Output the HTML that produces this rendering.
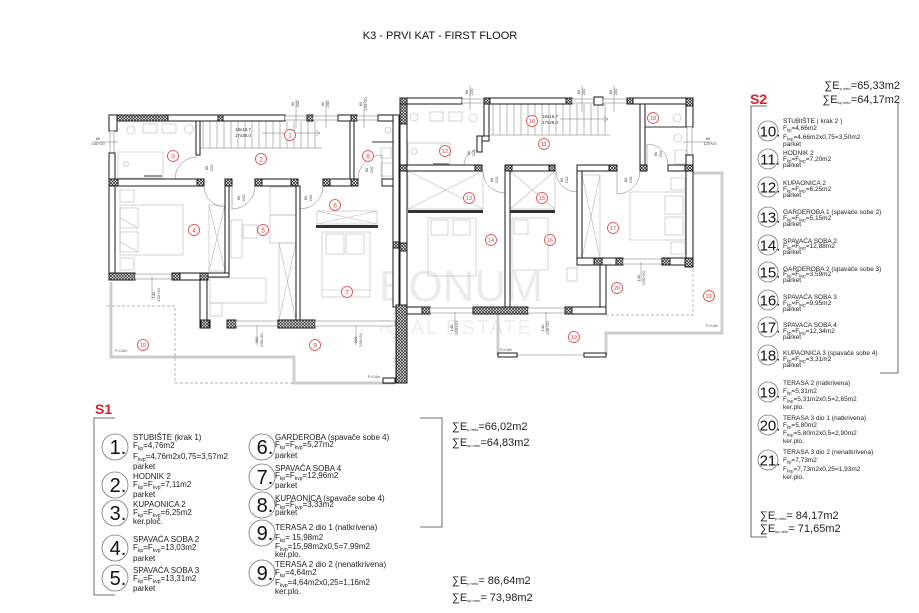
<!DOCTYPE html>
<html><head><meta charset="utf-8">
<style>
html,body{margin:0;padding:0;background:#fff;}
svg{display:block}
.w{fill:#fff;stroke:#1a1a1a;stroke-width:1}
.hh{fill:url(#h);stroke:#1a1a1a;stroke-width:1}
.wn{fill:#fff;stroke:#777;stroke-width:.5}
.f{fill:none;stroke:#b8b8b8;stroke-width:.6}
.d{fill:none;stroke:#777;stroke-width:.5}
.dl{fill:none;stroke:#9a9a9a;stroke-width:2.4}
.dl2{fill:none;stroke:#fff;stroke-width:1}
.ds{fill:none;stroke:#999;stroke-width:.7;stroke-dasharray:3 2}
.rc{fill:#fff;stroke:#e03a3a;stroke-width:.8}
.rt{fill:#e03a3a;font-size:6.5px;text-anchor:middle}
.t{font-size:4px;fill:#444;text-anchor:middle}
</style></head><body>
<svg width="919" height="613" viewBox="0 0 919 613" xmlns="http://www.w3.org/2000/svg" font-family="'Liberation Sans', Arial, sans-serif">
<defs>
<pattern id="h" width="3" height="3" patternUnits="userSpaceOnUse"><rect width="3" height="3" fill="#fff"/><path d="M0 0L3 3M3 0L0 3" stroke="#222" stroke-width=".7"/></pattern>
</defs>
<rect width="919" height="613" fill="#fff"/>
<text x="440" y="39" font-size="11" text-anchor="middle" fill="#111">K3 - PRVI KAT - FIRST FLOOR</text>

<!-- watermark -->
<text x="461" y="301" font-size="44" text-anchor="middle" fill="#ebebeb">BONUM</text>
<text x="456" y="334" font-size="20" letter-spacing="2" text-anchor="middle" fill="#eeeeee">REAL ESTATE</text>

<!-- terraces -->
<path class="dl" d="M111 282V357H294V383H395"/>
<path class="dl2" d="M111 282V357H294V383H395"/>
<path class="ds" d="M107 306H175V383H294"/>
<path class="dl" d="M693 173H722V333H606V355"/>
<path class="dl2" d="M693 173H722V333H606V355"/>
<path class="dl" d="M498 314V355"/>
<path class="dl2" d="M498 314V355"/>
<path class="d" d="M517 355H584"/>
<path class="ds" d="M606 315H693V267"/>
<text x="115" y="352" font-size="3.5" fill="#555">P=0,8m</text>
<text x="368" y="378" font-size="3.5" fill="#555">P=0,8m</text>
<text x="500" y="351" font-size="3.5" fill="#555">P=0,8m</text>
<text x="706" y="327" font-size="3.5" fill="#555">P=0,8m</text>

<!-- furniture L -->
<g class="f">
<rect x="143" y="124" width="14" height="9"/><rect x="162" y="124" width="14" height="9"/>
<circle cx="131" cy="130" r="4"/><circle cx="189" cy="129" r="4.5"/>
<rect x="118" y="152" width="45" height="26"/><circle cx="126" cy="164" r="2.5"/>
<circle cx="388" cy="130" r="3"/><rect x="381" y="148" width="10" height="10"/><rect x="381" y="163" width="13" height="13"/>
<rect x="120" y="205" width="63" height="50"/><rect x="120" y="208" width="18" height="20"/><rect x="120" y="232" width="18" height="20"/>
<path d="M120 218L138 228M120 242L138 252"/>
<rect x="120" y="190" width="14" height="12"/><rect x="120" y="258" width="14" height="12"/>
<rect x="209" y="205" width="16" height="66"/><path d="M209 205L225 271M225 205L209 271"/>
<rect x="231" y="220" width="11" height="38"/><rect x="243" y="225" width="14" height="13"/>
<rect x="210" y="278" width="56" height="25"/><rect x="210" y="303" width="12" height="13"/>
<rect x="270" y="187" width="26" height="28"/><rect x="270" y="215" width="26" height="28"/>
<rect x="279" y="243" width="17" height="77"/><path d="M279 243L296 320M296 243L279 320"/>
<rect x="317" y="211" width="60" height="13"/><path d="M317 211L377 224M377 211L317 224"/>
<rect x="322" y="232" width="48" height="65"/><rect x="326" y="234" width="18" height="20"/><rect x="346" y="234" width="18" height="20"/>
<path d="M322 290H370"/>
</g>
<rect x="144" y="175" width="18" height="2" fill="#999"/>

<!-- furniture R -->
<g class="f">
<rect x="430" y="112" width="13" height="9"/><rect x="449" y="112" width="13" height="9"/>
<circle cx="414" cy="117" r="4"/><circle cx="473" cy="118" r="4"/>
<rect x="408" y="143" width="42" height="22"/><circle cx="414" cy="151" r="3"/>
<rect x="408" y="171" width="75" height="38"/><path d="M408 171L483 209M483 171L408 209"/>
<rect x="510" y="171" width="45" height="38"/><path d="M510 171L555 209M555 171L510 209"/>
<rect x="428" y="218" width="48" height="58"/><rect x="431" y="220" width="17" height="15"/><rect x="453" y="220" width="17" height="15"/>
<rect x="512" y="218" width="36" height="52"/><rect x="514" y="220" width="14" height="14"/>
<rect x="567" y="268" width="10" height="13"/>
<rect x="630" y="192" width="55" height="48"/><rect x="665" y="196" width="18" height="18"/><rect x="665" y="217" width="18" height="18"/>
<rect x="671" y="178" width="14" height="12"/><rect x="671" y="242" width="14" height="12"/>
<rect x="582" y="175" width="18" height="83"/><path d="M582 175L600 258M600 175L582 258"/>
<circle cx="677" cy="118" r="4"/><circle cx="678" cy="138" r="4"/><rect x="675" y="150" width="11" height="14"/>
<rect x="643" y="108" width="2" height="22"/>
</g>
<rect x="433" y="163" width="16" height="2" fill="#999"/>

<!-- stairs -->
<path class="d" d="M203 121V148M210 121V148M217 121V148M224 121V148M231 121V148M238 121V148M245 121V148M252 121V148M259 121V148M266 121V148M273 121V148M280 121V148M287 121V148M294 121V148M301 121V148M308 121V148M315 121V148M200 148H322"/>
<path class="d" d="M262 133H320M316 130L320 133L316 136"/>
<text x="243" y="131" font-size="4.5" fill="#333" text-anchor="middle">18x16,7</text>
<text x="243" y="137" font-size="4.5" fill="#333" text-anchor="middle">17x28,0</text>
<path class="d" d="M493 104V135M500 104V135M507 104V135M514 104V135M521 104V135M528 104V135M535 104V135M542 104V135M549 104V135M556 104V135M563 104V135M570 104V135M577 104V135M584 104V135M591 104V135M598 104V135M605 104V135M490 135H610"/>
<path class="d" d="M560 119H608M604 116L608 119L604 122"/>
<text x="550" y="118" font-size="4.5" fill="#333" text-anchor="middle">18x16,7</text>
<text x="550" y="124" font-size="4.5" fill="#333" text-anchor="middle">17x28,0</text>

<!-- doors -->
<g class="d">
<path d="M197 157A22 22 0 0 0 175 179H197"/>
<path d="M204 186A21 21 0 0 0 225 207V186"/>
<path d="M255 186A23 23 0 0 1 232 209V186"/>
<path d="M323 186A23 23 0 0 1 300 209V186"/>
<path d="M358 179A24 24 0 0 1 382 155V179"/>
<path d="M479 150A15 15 0 0 0 464 165H479"/>
<path d="M483 171A22 22 0 0 0 505 193V171"/>
<path d="M556 171A21 21 0 0 0 577 192V171"/>
<path d="M640 171A23 23 0 0 1 617 194V171"/>
<path d="M668 165A21 21 0 0 0 647 144V165"/>
</g>

<!-- walls L -->
<rect class="w" x="109" y="115" width="176" height="6"/>
<rect class="hh" x="112" y="115" width="56" height="6"/>
<rect class="hh" x="218" y="115" width="5" height="6"/>
<rect class="wn" x="285" y="116" width="22" height="4"/>
<rect class="hh" x="307" y="115" width="6" height="6"/>
<rect class="wn" x="313" y="116" width="25" height="4"/>
<rect class="w" x="338" y="115" width="19" height="6"/>
<rect class="hh" x="351" y="115" width="6" height="6"/>
<rect class="wn" x="357" y="116" width="21" height="4"/>
<rect class="w" x="378" y="115" width="21" height="6"/>
<rect class="w" x="109" y="115" width="8" height="16"/>
<rect class="wn" x="110" y="131" width="4" height="22"/>
<rect class="w" x="109" y="153" width="6" height="127"/>
<rect class="w" x="109" y="179" width="95" height="7"/>
<rect class="hh" x="109" y="179" width="9" height="7"/>
<rect class="hh" x="197" y="179" width="7" height="7"/>
<rect class="hh" x="225" y="179" width="7" height="7"/>
<rect class="w" x="255" y="179" width="43" height="7"/>
<rect class="hh" x="255" y="179" width="7" height="7"/>
<rect class="hh" x="291" y="179" width="7" height="7"/>
<rect class="w" x="323" y="179" width="35" height="7"/>
<rect class="hh" x="323" y="179" width="7" height="7"/>
<rect class="hh" x="351" y="179" width="7" height="7"/>
<rect class="w" x="382" y="179" width="17" height="7"/>
<rect class="w" x="196" y="121" width="4" height="34"/>
<rect class="w" x="350" y="121" width="4" height="58"/>
<path d="M372 142H393" stroke="#333" stroke-width="1"/>
<rect class="w" x="393" y="115" width="6" height="192"/>
<rect class="hh" x="393" y="242" width="6" height="6"/>
<rect class="w" x="225" y="186" width="4" height="88"/>
<rect class="w" x="203" y="273" width="26" height="4"/>
<rect class="hh" x="109" y="273" width="26" height="7"/>
<rect class="wn" x="135" y="274" width="37" height="5"/>
<rect class="hh" x="172" y="273" width="8" height="7"/>
<rect class="w" x="180" y="273" width="22" height="7"/>
<rect class="hh" x="200" y="273" width="8" height="7"/>
<rect class="w" x="200" y="280" width="7" height="40"/>
<rect class="w" x="200" y="320" width="10" height="8"/>
<rect class="hh" x="201" y="320" width="8" height="8"/>
<rect class="hh" x="227" y="320" width="9" height="8"/>
<rect class="wn" x="236" y="321" width="42" height="5"/>
<rect class="hh" x="278" y="320" width="37" height="8"/>
<rect class="wn" x="315" y="321" width="80" height="5"/>
<rect class="w" x="296" y="186" width="4" height="134"/>
<rect x="316" y="225" width="62" height="3" fill="#333"/>
<rect class="w" x="383" y="378" width="12" height="5"/>

<!-- walls R -->
<rect class="w" x="400" y="98" width="7" height="285"/>
<rect class="hh" x="400" y="98" width="7" height="26"/>
<rect class="hh" x="400" y="243" width="7" height="8"/>
<rect class="hh" x="396" y="305" width="11" height="78"/>
<rect class="w" x="400" y="98" width="62" height="6"/>
<rect class="hh" x="400" y="98" width="7" height="6"/>
<rect class="wn" x="462" y="99" width="22" height="4"/>
<rect class="w" x="484" y="98" width="88" height="6"/>
<rect class="hh" x="484" y="98" width="6" height="6"/>
<rect class="hh" x="566" y="98" width="6" height="6"/>
<rect class="wn" x="572" y="99" width="22" height="4"/>
<rect class="w" x="594" y="97" width="9" height="8"/>
<rect class="wn" x="603" y="99" width="24" height="4"/>
<rect class="w" x="627" y="98" width="66" height="6"/>
<rect class="hh" x="627" y="98" width="6" height="6"/>
<rect class="w" x="686" y="98" width="7" height="29"/>
<rect class="hh" x="686" y="98" width="7" height="8"/>
<rect class="wn" x="687" y="127" width="5" height="28"/>
<rect class="w" x="686" y="155" width="7" height="112"/>
<rect class="w" x="400" y="165" width="82" height="6"/>
<rect class="hh" x="400" y="165" width="7" height="6"/>
<rect class="hh" x="475" y="165" width="7" height="6"/>
<rect class="w" x="505" y="165" width="50" height="6"/>
<rect class="hh" x="505" y="165" width="7" height="6"/>
<rect class="hh" x="549" y="165" width="6" height="6"/>
<rect class="w" x="577" y="165" width="40" height="6"/>
<rect class="hh" x="609" y="165" width="8" height="6"/>
<rect class="hh" x="640" y="165" width="7" height="6"/>
<rect class="w" x="668" y="165" width="25" height="6"/>
<rect class="hh" x="685" y="165" width="8" height="6"/>
<rect class="w" x="484" y="104" width="5" height="36"/>
<rect class="w" x="477" y="136" width="12" height="5"/>
<rect class="w" x="477" y="136" width="5" height="16"/>
<rect class="w" x="640" y="104" width="5" height="61"/>
<path d="M645 127H686" stroke="#333" stroke-width="1"/>
<rect class="w" x="505" y="171" width="5" height="136"/>
<rect class="w" x="577" y="171" width="5" height="87"/>
<rect class="w" x="577" y="258" width="46" height="7"/>
<rect class="hh" x="594" y="258" width="8" height="7"/>
<rect class="hh" x="616" y="258" width="7" height="7"/>
<rect class="wn" x="623" y="259" width="39" height="5"/>
<rect class="w" x="662" y="258" width="31" height="7"/>
<rect class="hh" x="662" y="258" width="8" height="7"/>
<rect class="hh" x="685" y="258" width="8" height="9"/>
<rect class="w" x="600" y="265" width="6" height="49"/>
<rect class="w" x="407" y="307" width="23" height="7"/>
<rect class="hh" x="422" y="307" width="8" height="7"/>
<rect class="wn" x="430" y="308" width="43" height="5"/>
<rect class="hh" x="473" y="307" width="55" height="7"/>
<rect class="wn" x="528" y="308" width="37" height="5"/>
<rect class="hh" x="565" y="307" width="7" height="7"/>
<rect class="w" x="572" y="307" width="34" height="7"/>
<rect x="408" y="210" width="75" height="3" fill="#333"/>
<rect x="510" y="210" width="45" height="3" fill="#333"/>
<rect class="w" x="498" y="353" width="19" height="4"/>
<rect class="w" x="584" y="353" width="22" height="4"/>

<!-- dimension labels -->
<g>
<path class="d" d="M296 100V128M326 100V128M364 100V128M470 85V110M582 85V112M614 85V112"/>
<g transform="translate(294,104) rotate(-90)"><text class="t">80</text><text class="t" y="5">200</text></g>
<g transform="translate(324,104) rotate(-90)"><text class="t">80</text><text class="t" y="5">200</text></g>
<g transform="translate(362,104) rotate(-90)"><text class="t">80</text><text class="t" y="5">130+20</text></g>
<g transform="translate(468,92) rotate(-90)"><text class="t">80</text><text class="t" y="5">220</text></g>
<g transform="translate(580,92) rotate(-90)"><text class="t">80</text><text class="t" y="5">200</text></g>
<g transform="translate(612,92) rotate(-90)"><text class="t">80</text><text class="t" y="5">200</text></g>
<text class="t" x="98" y="140">80</text><text class="t" x="98" y="145">130+20</text>
<path class="d" d="M93 142H118M683 142H712"/>
<text class="t" x="708" y="140">80</text><text class="t" x="710" y="145">120+20</text>
<path class="d" d="M152 276V300M257 325V345M356 325V345M455 312V332M546 312V332M641 262V282"/>
<g transform="translate(155,295) rotate(-90)"><text class="t">140</text><text class="t" y="5">230+20</text></g>
<g transform="translate(258,340) rotate(-90)"><text class="t">300</text><text class="t" y="5">230+20</text></g>
<g transform="translate(357,340) rotate(-90)"><text class="t">300</text><text class="t" y="5">230+20</text></g>
<g transform="translate(453,328) rotate(-90)"><text class="t">140</text><text class="t" y="5">230+20</text></g>
<g transform="translate(544,328) rotate(-90)"><text class="t">140</text><text class="t" y="5">230+20</text></g>
<g transform="translate(640,278) rotate(-90)"><text class="t">140</text><text class="t" y="5">230+20</text></g>
<g transform="translate(208,168) rotate(-90)"><text class="t">80</text><text class="t" y="5">210</text></g>
<g transform="translate(240,198) rotate(-90)"><text class="t">80</text><text class="t" y="5">210</text></g>
<g transform="translate(307,198) rotate(-90)"><text class="t">80</text><text class="t" y="5">210</text></g>
<g transform="translate(368,170) rotate(-90)"><text class="t">80</text><text class="t" y="5">210</text></g>
<g transform="translate(493,180) rotate(-90)"><text class="t">80</text><text class="t" y="5">210</text></g>
<g transform="translate(563,180) rotate(-90)"><text class="t">80</text><text class="t" y="5">210</text></g>
<g transform="translate(627,180) rotate(-90)"><text class="t">80</text><text class="t" y="5">210</text></g>
<g transform="translate(657,154) rotate(-90)"><text class="t">80</text><text class="t" y="5">210</text></g>
<g transform="translate(470,153) rotate(-90)"><text class="t">80</text><text class="t" y="5">210</text></g>
</g>

<!-- room labels -->
<g class="rc">
<circle cx="290" cy="135" r="5.5"/><circle cx="261" cy="159" r="5.5"/><circle cx="173" cy="156" r="5.5"/>
<circle cx="194" cy="230" r="5.5"/><circle cx="263" cy="230" r="5.5"/><circle cx="335" cy="205" r="5.5"/>
<circle cx="347" cy="292" r="5.5"/><circle cx="368" cy="156" r="5.5"/><circle cx="315" cy="345" r="5.5"/>
<circle cx="143" cy="345" r="5.5"/><circle cx="532" cy="121" r="5.5"/><circle cx="544" cy="144" r="5.5"/>
<circle cx="445" cy="151" r="5.5"/><circle cx="469" cy="198" r="5.5"/><circle cx="491" cy="240" r="5.5"/>
<circle cx="542" cy="198" r="5.5"/><circle cx="550" cy="240" r="5.5"/><circle cx="613" cy="228" r="5.5"/>
<circle cx="653" cy="118" r="5.5"/><circle cx="574" cy="337" r="5.5"/><circle cx="617" cy="288" r="5.5"/>
<circle cx="709" cy="296" r="5.5"/>
</g>
<g class="rt">
<text x="290" y="137.3">1</text><text x="261" y="161.3">2</text><text x="173" y="158.3">3</text>
<text x="194" y="232.3">4</text><text x="263" y="232.3">5</text><text x="335" y="207.3">6</text>
<text x="347" y="294.3">7</text><text x="368" y="158.3">8</text><text x="315" y="347.3">9</text>
<g font-size="5.5"><text x="143" y="347">10</text><text x="532" y="123">10</text><text x="544" y="146">11</text>
<text x="445" y="153">12</text><text x="469" y="200">13</text><text x="491" y="242">14</text>
<text x="542" y="200">15</text><text x="550" y="242">16</text><text x="613" y="230">17</text>
<text x="653" y="120">18</text><text x="574" y="339">19</text><text x="617" y="290">20</text>
<text x="709" y="298">21</text></g>
</g>

<!-- ===== LEGEND S1 ===== -->
<text x="95" y="414" font-size="14" font-weight="bold" fill="#d81e2a">S1</text>
<path d="M115 418H94V595H115M420 418H442V527H420" fill="none" stroke="#444" stroke-width=".8"/>
<g fill="#fff" stroke="#777" stroke-width=".8">
<circle cx="115" cy="447" r="13"/><circle cx="115" cy="485" r="13"/><circle cx="115" cy="513" r="13"/>
<circle cx="115" cy="548" r="13"/><circle cx="115" cy="578" r="13"/>
<circle cx="262" cy="447" r="13"/><circle cx="262" cy="477" r="13"/><circle cx="262" cy="505" r="13"/>
<circle cx="262" cy="533" r="13"/><circle cx="262" cy="573" r="13"/>
</g>
<g font-size="20" fill="#111" text-anchor="middle">
<text x="118" y="454">1.</text><text x="118" y="492">2.</text><text x="118" y="520">3.</text>
<text x="118" y="555">4.</text><text x="118" y="585">5.</text>
<text x="265" y="454">6.</text><text x="265" y="484">7.</text><text x="265" y="512">8.</text>
<text x="265" y="540">9.</text><text x="265" y="580">9.</text>
</g>
<g font-size="8" fill="#222">
<text x="133" y="440">STUBIŠTE (krak 1)</text>
<text x="133" y="448">F<tspan font-size="5" dy="2">kp</tspan><tspan dy="-2">=4,76m2</tspan></text>
<text x="133" y="459">F<tspan font-size="5" dy="2">kvp</tspan><tspan dy="-2">=4,76m2x0,75=3,57m2</tspan></text>
<text x="133" y="469">parket</text>
<text x="133" y="479">HODNIK 2</text>
<text x="133" y="487">F<tspan font-size="5" dy="2">kp</tspan><tspan dy="-2">=F</tspan><tspan font-size="5" dy="2">kvp</tspan><tspan dy="-2">=7,11m2</tspan></text>
<text x="133" y="497">parket</text>
<text x="133" y="507">KUPAONICA 2</text>
<text x="133" y="515">F<tspan font-size="5" dy="2">kp</tspan><tspan dy="-2">=F</tspan><tspan font-size="5" dy="2">kvp</tspan><tspan dy="-2">=6,25m2</tspan></text>
<text x="133" y="524">ker.ploč.</text>
<text x="133" y="542">SPAVAĆA SOBA 2</text>
<text x="133" y="550">F<tspan font-size="5" dy="2">kp</tspan><tspan dy="-2">=F</tspan><tspan font-size="5" dy="2">kvp</tspan><tspan dy="-2">=13,03m2</tspan></text>
<text x="133" y="561">parket</text>
<text x="133" y="573">SPAVAĆA SOBA 3</text>
<text x="133" y="581">F<tspan font-size="5" dy="2">kp</tspan><tspan dy="-2">=F</tspan><tspan font-size="5" dy="2">kvp</tspan><tspan dy="-2">=13,31m2</tspan></text>
<text x="133" y="591">parket</text>

<text x="275" y="440">GARDEROBA (spavače sobe 4)</text>
<text x="275" y="447">F<tspan font-size="5" dy="2">kp</tspan><tspan dy="-2">=F</tspan><tspan font-size="5" dy="2">kvp</tspan><tspan dy="-2">=5,27m2</tspan></text>
<text x="275" y="458">parket</text>
<text x="275" y="471">SPAVAĆA SOBA 4</text>
<text x="275" y="478">F<tspan font-size="5" dy="2">kp</tspan><tspan dy="-2">=F</tspan><tspan font-size="5" dy="2">kvp</tspan><tspan dy="-2">=12,96m2</tspan></text>
<text x="275" y="488">parket</text>
<text x="275" y="501">KUPAONICA (spavače sobe 4)</text>
<text x="275" y="507">F<tspan font-size="5" dy="2">kp</tspan><tspan dy="-2">=F</tspan><tspan font-size="5" dy="2">kvp</tspan><tspan dy="-2">=3,33m2</tspan></text>
<text x="275" y="515">parket</text>
<text x="275" y="530">TERASA 2 dio 1 (natkrivena)</text>
<text x="275" y="540">F<tspan font-size="5" dy="2">kp</tspan><tspan dy="-2">= 15,98m2</tspan></text>
<text x="275" y="549">F<tspan font-size="5" dy="2">kvp</tspan><tspan dy="-2">=15,98m2x0,5=7,99m2</tspan></text>
<text x="275" y="557">ker.plo.</text>
<text x="275" y="567">TERASA 2 dio 2 (nenatkrivena)</text>
<text x="275" y="575">F<tspan font-size="5" dy="2">kp</tspan><tspan dy="-2">=4,64m2</tspan></text>
<text x="275" y="585">F<tspan font-size="5" dy="2">kvp</tspan><tspan dy="-2">=4,64m2x0,25=1,16m2</tspan></text>
<text x="275" y="594">ker.plo.</text>
</g>
<g font-size="11" fill="#222">
<text x="452" y="430">∑E<tspan font-size="4" dy="1">p neto</tspan><tspan dy="-1">=66,02m2</tspan></text>
<text x="452" y="446">∑E<tspan font-size="4" dy="1">kp neto</tspan><tspan dy="-1">=64,83m2</tspan></text>
<text x="452" y="584">∑E<tspan font-size="4" dy="1">p neto</tspan><tspan dy="-1">= 86,64m2</tspan></text>
<text x="452" y="601">∑E<tspan font-size="4" dy="1">kp neto</tspan><tspan dy="-1">= 73,98m2</tspan></text>
</g>

<!-- ===== LEGEND S2 ===== -->
<text x="750" y="104" font-size="14" font-weight="bold" fill="#d81e2a">S2</text>
<path d="M767 106H751V537H767M898 102V373H880" fill="none" stroke="#444" stroke-width=".8"/>
<g font-size="11" fill="#222" text-anchor="end">
<text x="900" y="89">∑E<tspan font-size="4" dy="1">p neto</tspan><tspan dy="-1">=65,33m2</tspan></text>
<text x="900" y="103">∑E<tspan font-size="4" dy="1">kp neto</tspan><tspan dy="-1">=64,17m2</tspan></text>
</g>
<g font-size="11" fill="#222">
<text x="760" y="519">∑E<tspan font-size="4" dy="1">p neto</tspan><tspan dy="-1">= 84,17m2</tspan></text>
<text x="760" y="532">∑E<tspan font-size="4" dy="1">kp neto</tspan><tspan dy="-1">= 71,65m2</tspan></text>
</g>
<g fill="#fff" stroke="#777" stroke-width=".8">
<circle cx="768" cy="131" r="10"/><circle cx="768" cy="159" r="10"/><circle cx="768" cy="187" r="10"/>
<circle cx="768" cy="217" r="10"/><circle cx="768" cy="245" r="10"/><circle cx="768" cy="272" r="10"/>
<circle cx="768" cy="300" r="10"/><circle cx="768" cy="327" r="10"/><circle cx="768" cy="355" r="10"/>
<circle cx="768" cy="392" r="10"/><circle cx="768" cy="425" r="10"/><circle cx="768" cy="460" r="10"/>
</g>
<g font-size="15" fill="#111" text-anchor="middle">
<text x="770" y="136.5">10.</text><text x="770" y="164.5">11.</text><text x="770" y="192.5">12.</text>
<text x="770" y="222.5">13.</text><text x="770" y="250.5">14.</text><text x="770" y="277.5">15.</text>
<text x="770" y="305.5">16.</text><text x="770" y="332.5">17.</text><text x="770" y="360.5">18.</text>
<text x="770" y="397.5">19.</text><text x="770" y="430.5">20.</text><text x="770" y="465.5">21.</text>
</g>
<g font-size="6.5" fill="#222">
<text x="783" y="123">STUBIŠTE ( krak 2 )</text>
<text x="783" y="130">F<tspan font-size="4.2" dy="1.5">kp</tspan><tspan dy="-1.5">=4,66m2</tspan></text>
<text x="783" y="139">F<tspan font-size="4.2" dy="1.5">kvp</tspan><tspan dy="-1.5">=4,66m2x0,75=3,50m2</tspan></text>
<text x="783" y="146">parket</text>
<text x="783" y="155">HODNIK 2</text>
<text x="783" y="161">F<tspan font-size="4.2" dy="1.5">kp</tspan><tspan dy="-1.5">=F</tspan><tspan font-size="4.2" dy="1.5">kvp</tspan><tspan dy="-1.5">=7,20m2</tspan></text>
<text x="783" y="167">parket</text>
<text x="783" y="185">KUPAONICA 2</text>
<text x="783" y="191">F<tspan font-size="4.2" dy="1.5">kp</tspan><tspan dy="-1.5">=F</tspan><tspan font-size="4.2" dy="1.5">kvp</tspan><tspan dy="-1.5">=6,25m2</tspan></text>
<text x="783" y="197">parket</text>
<text x="783" y="214">GARDEROBA 1 (spavače sobe 2)</text>
<text x="783" y="220">F<tspan font-size="4.2" dy="1.5">kp</tspan><tspan dy="-1.5">=F</tspan><tspan font-size="4.2" dy="1.5">kvp</tspan><tspan dy="-1.5">=5,15m2</tspan></text>
<text x="783" y="226">parket</text>
<text x="783" y="243">SPAVAĆA SOBA 2</text>
<text x="783" y="248">F<tspan font-size="4.2" dy="1.5">kp</tspan><tspan dy="-1.5">=F</tspan><tspan font-size="4.2" dy="1.5">kvp</tspan><tspan dy="-1.5">=12,88m2</tspan></text>
<text x="783" y="254">parket</text>
<text x="783" y="271">GARDEROBA 2 (spavače sobe 3)</text>
<text x="783" y="276">F<tspan font-size="4.2" dy="1.5">kp</tspan><tspan dy="-1.5">=F</tspan><tspan font-size="4.2" dy="1.5">kvp</tspan><tspan dy="-1.5">=3,59m2</tspan></text>
<text x="783" y="282">parket</text>
<text x="783" y="299">SPAVAĆA SOBA 3</text>
<text x="783" y="305">F<tspan font-size="4.2" dy="1.5">kp</tspan><tspan dy="-1.5">=F</tspan><tspan font-size="4.2" dy="1.5">kvp</tspan><tspan dy="-1.5">=9,95m2</tspan></text>
<text x="783" y="311">parket</text>
<text x="783" y="327">SPAVAĆA SOBA 4</text>
<text x="783" y="333">F<tspan font-size="4.2" dy="1.5">kp</tspan><tspan dy="-1.5">=F</tspan><tspan font-size="4.2" dy="1.5">kvp</tspan><tspan dy="-1.5">=12,34m2</tspan></text>
<text x="783" y="339">parket</text>
<text x="783" y="355">KUPAONICA 3 (spavače sobe 4)</text>
<text x="783" y="361">F<tspan font-size="4.2" dy="1.5">kp</tspan><tspan dy="-1.5">=F</tspan><tspan font-size="4.2" dy="1.5">kvp</tspan><tspan dy="-1.5">=3,31m2</tspan></text>
<text x="783" y="367">parket</text>
<text x="783" y="385">TERASA 2 (natkrivena)</text>
<text x="783" y="393">F<tspan font-size="4.2" dy="1.5">kp</tspan><tspan dy="-1.5">=5,31m2</tspan></text>
<text x="783" y="401">F<tspan font-size="4.2" dy="1.5">kvp</tspan><tspan dy="-1.5">=5,31m2x0,5=2,65m2</tspan></text>
<text x="783" y="409">ker.plo.</text>
<text x="783" y="420">TERASA 3 dio 1 (natkrivena)</text>
<text x="783" y="427">F<tspan font-size="4.2" dy="1.5">kp</tspan><tspan dy="-1.5">=5,80m2</tspan></text>
<text x="783" y="435">F<tspan font-size="4.2" dy="1.5">kvp</tspan><tspan dy="-1.5">=5,80m2x0,5=2,90m2</tspan></text>
<text x="783" y="443">ker.plo.</text>
<text x="783" y="454">TERASA 3 dio 2 (nenatkrivena)</text>
<text x="783" y="462">F<tspan font-size="4.2" dy="1.5">kp</tspan><tspan dy="-1.5">=7,73m2</tspan></text>
<text x="783" y="471">F<tspan font-size="4.2" dy="1.5">kvp</tspan><tspan dy="-1.5">=7,73m2x0,25=1,93m2</tspan></text>
<text x="783" y="479">ker.plo.</text>
</g>
</svg>
</body></html>
